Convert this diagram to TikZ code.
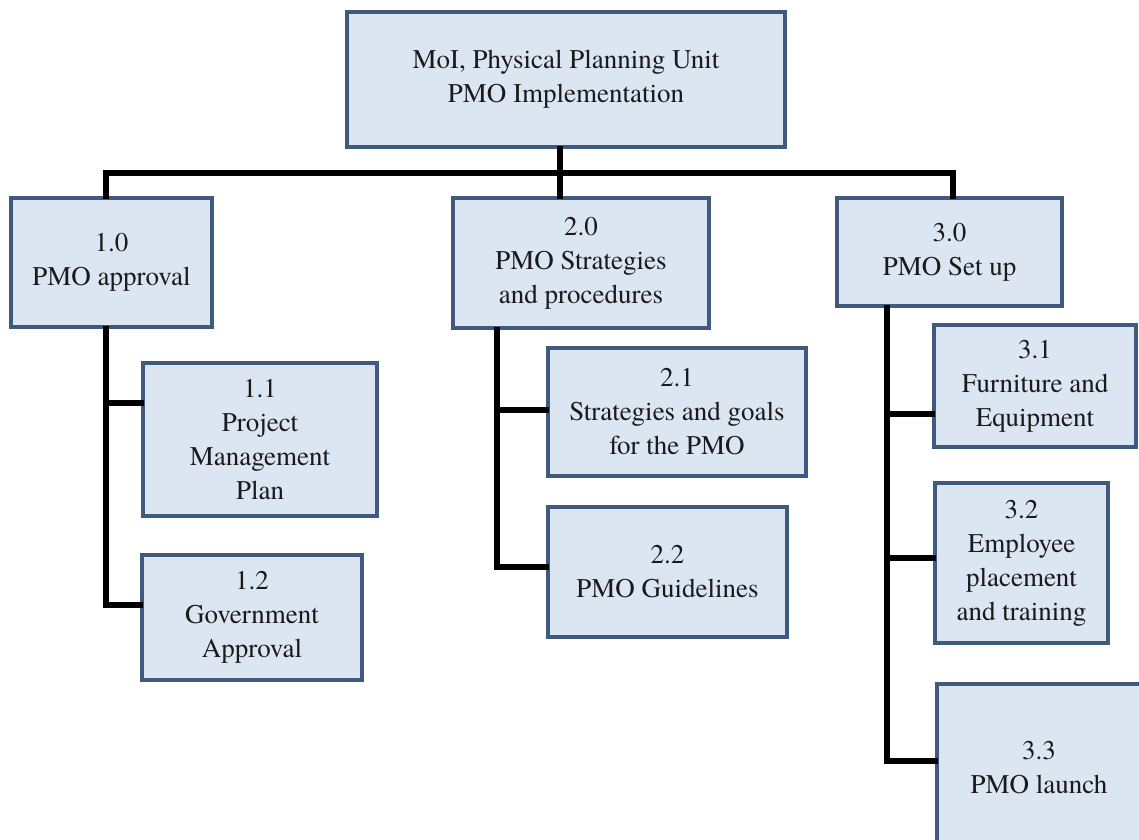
\documentclass[tikz,border=0pt]{standalone}
\usepackage{fontspec}
\setmainfont{TeX Gyre Termes}
\definecolor{boxfill}{HTML}{DCE5F2}
\definecolor{boxline}{HTML}{3F5A7E}
\definecolor{ink}{HTML}{1A1A1A}
\begin{document}
\begin{tikzpicture}[x=1pt,y=-1pt,
  wbs/.style={draw=boxline, fill=boxfill, line width=3.5pt, rectangle,
    align=center, inner sep=0pt, text=ink,
    font=\fontsize{27}{34}\selectfont},
  link/.style={draw=black, line width=5.5pt, line cap=rect}]
\useasboundingbox (0,0) rectangle (1139,839);

% root
\node[wbs, minimum width=438pt, minimum height=135pt] (root) at (566,79.5)
  {MoI, Physical Planning Unit\\PMO Implementation};

% level 1
\node[wbs, minimum width=201pt, minimum height=129pt] (b10) at (111.5,262.5)
  {1.0\\PMO approval};
\node[wbs, minimum width=256pt, minimum height=130pt] (b20) at (581,263)
  {2.0\\PMO Strategies\\and procedures};
\node[wbs, minimum width=225pt, minimum height=108pt] (b30) at (949.5,252)
  {3.0\\PMO Set up};

% level 2, branch 1
\node[wbs, minimum width=234pt, minimum height=153pt] (b11) at (260,439.5)
  {1.1\\Project\\Management\\Plan};
\node[wbs, minimum width=220pt, minimum height=125pt] (b12) at (252,617.5)
  {1.2\\Government\\Approval};

% level 2, branch 2
\node[wbs, minimum width=258pt, minimum height=128pt] (b21) at (677,412)
  {2.1\\Strategies and goals\\for the PMO};
\node[wbs, minimum width=239pt, minimum height=130pt] (b22) at (667.5,572)
  {2.2\\PMO Guidelines};

% level 2, branch 3
\node[wbs, minimum width=202pt, minimum height=122pt] (b31) at (1035,386)
  {3.1\\Furniture and\\Equipment};
\node[wbs, minimum width=173pt, minimum height=160pt] (b32) at (1021.5,563)
  {3.2\\Employee\\placement\\and training};
\node[wbs, minimum width=204pt, minimum height=168pt] (b33) at (1039,768)
  {3.3\\PMO launch};

% bus under the root
\coordinate (bus) at (560,173);
\coordinate (busL) at (106,173);
\coordinate (busR) at (953,173);

% spine branch points
\coordinate (s1a) at (106,403);
\coordinate (s1b) at (106,605);
\coordinate (s2a) at (497,410);
\coordinate (s2b) at (497,567);
\coordinate (s3a) at (887,414);
\coordinate (s3b) at (887,558);
\coordinate (s3c) at (887,761);

% root to level 1
\draw[link] (root.south -| bus) -- (bus);
\draw[link] (busL) -- (busR);
\draw[link] (busL) -- (b10.north -| busL);
\draw[link] (bus) -- (b20.north -| bus);
\draw[link] (busR) -- (b30.north -| busR);

% branch 1
\draw[link] (b10.south -| s1a) -- (s1b) -- (b12.west |- s1b);
\draw[link] (s1a) -- (b11.west |- s1a);

% branch 2
\draw[link] (b20.south -| s2a) -- (s2b) -- (b22.west |- s2b);
\draw[link] (s2a) -- (b21.west |- s2a);

% branch 3
\draw[link] (b30.south -| s3a) -- (s3c) -- (b33.west |- s3c);
\draw[link] (s3a) -- (b31.west |- s3a);
\draw[link] (s3b) -- (b32.west |- s3b);
\end{tikzpicture}
\end{document}
